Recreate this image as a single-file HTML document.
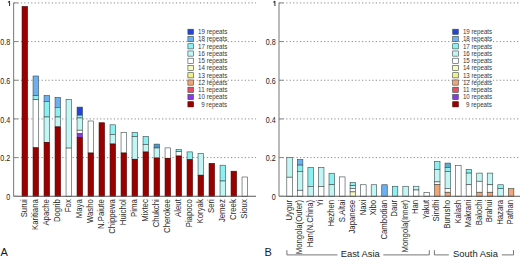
<!DOCTYPE html>
<html><head><meta charset="utf-8"><style>
html,body{margin:0;padding:0;background:#fff;}
svg{display:block;}
text{font-family:"Liberation Sans", sans-serif;}
</style></head><body>
<svg width="520" height="257" viewBox="0 0 520 257" fill="#1a1a1a">
<line x1="13.98" y1="157.59" x2="256.0" y2="157.59" stroke="#8a8a8a" stroke-width="1" stroke-dasharray="1.2 2.245"/>
<line x1="13.98" y1="118.92" x2="256.0" y2="118.92" stroke="#8a8a8a" stroke-width="1" stroke-dasharray="1.2 2.245"/>
<line x1="13.98" y1="80.25" x2="256.0" y2="80.25" stroke="#8a8a8a" stroke-width="1" stroke-dasharray="1.2 2.245"/>
<line x1="13.98" y1="41.58" x2="256.0" y2="41.58" stroke="#8a8a8a" stroke-width="1" stroke-dasharray="1.2 2.245"/>
<line x1="13.98" y1="2.91" x2="256.0" y2="2.91" stroke="#8a8a8a" stroke-width="1" stroke-dasharray="1.2 2.245"/>
<rect x="22.05" y="6.50" width="5.5" height="189.76" fill="#9a0000" stroke="#4a0000" stroke-width="0.6"/>
<text transform="translate(27.00,199.20) rotate(-90) scale(0.885,1)" text-anchor="end" font-size="8.8" fill="#2a2a2a">Surui</text>
<rect x="33.05" y="76.00" width="5.5" height="19.60" fill="#6cb0f0" stroke="#3a4848" stroke-width="0.6"/>
<rect x="33.05" y="95.60" width="5.5" height="4.00" fill="#8cf0f0" stroke="#3a4848" stroke-width="0.6"/>
<rect x="33.05" y="99.60" width="5.5" height="48.20" fill="#ffffff" stroke="#3a4848" stroke-width="0.6"/>
<rect x="33.05" y="147.80" width="5.5" height="48.46" fill="#9a0000" stroke="#4a0000" stroke-width="0.6"/>
<text transform="translate(38.00,199.20) rotate(-90) scale(0.885,1)" text-anchor="end" font-size="8.8" fill="#2a2a2a">Karitiana</text>
<rect x="44.05" y="95.50" width="5.5" height="6.00" fill="#6cb0f0" stroke="#3a4848" stroke-width="0.6"/>
<rect x="44.05" y="101.50" width="5.5" height="15.50" fill="#8cf0f0" stroke="#3a4848" stroke-width="0.6"/>
<rect x="44.05" y="117.00" width="5.5" height="25.40" fill="#c2f6f4" stroke="#3a4848" stroke-width="0.6"/>
<rect x="44.05" y="142.40" width="5.5" height="53.86" fill="#9a0000" stroke="#4a0000" stroke-width="0.6"/>
<text transform="translate(49.00,199.20) rotate(-90) scale(0.885,1)" text-anchor="end" font-size="8.8" fill="#2a2a2a">Apache</text>
<rect x="55.05" y="97.40" width="5.5" height="9.90" fill="#6cb0f0" stroke="#3a4848" stroke-width="0.6"/>
<rect x="55.05" y="107.30" width="5.5" height="9.70" fill="#8cf0f0" stroke="#3a4848" stroke-width="0.6"/>
<rect x="55.05" y="117.00" width="5.5" height="9.90" fill="#c2f6f4" stroke="#3a4848" stroke-width="0.6"/>
<rect x="55.05" y="126.90" width="5.5" height="69.36" fill="#9a0000" stroke="#4a0000" stroke-width="0.6"/>
<text transform="translate(60.00,199.20) rotate(-90) scale(0.885,1)" text-anchor="end" font-size="8.8" fill="#2a2a2a">Dogrib</text>
<rect x="66.05" y="99.40" width="5.5" height="48.70" fill="#c2f6f4" stroke="#3a4848" stroke-width="0.6"/>
<rect x="66.05" y="148.10" width="5.5" height="48.16" fill="#ffffff" stroke="#3a4848" stroke-width="0.6"/>
<text transform="translate(71.00,199.20) rotate(-90) scale(0.885,1)" text-anchor="end" font-size="8.8" fill="#2a2a2a">Fox</text>
<rect x="77.05" y="107.10" width="5.5" height="8.10" fill="#2244dd" stroke="#3a4848" stroke-width="0.6"/>
<rect x="77.05" y="115.20" width="5.5" height="2.80" fill="#8cf0f0" stroke="#3a4848" stroke-width="0.6"/>
<rect x="77.05" y="118.00" width="5.5" height="12.20" fill="#c2f6f4" stroke="#3a4848" stroke-width="0.6"/>
<rect x="77.05" y="130.20" width="5.5" height="3.40" fill="#ffffff" stroke="#3a4848" stroke-width="0.6"/>
<rect x="77.05" y="133.60" width="5.5" height="4.10" fill="#8a38e6" stroke="#3a4848" stroke-width="0.6"/>
<rect x="77.05" y="137.70" width="5.5" height="58.56" fill="#9a0000" stroke="#4a0000" stroke-width="0.6"/>
<text transform="translate(82.00,199.20) rotate(-90) scale(0.885,1)" text-anchor="end" font-size="8.8" fill="#2a2a2a">Maya</text>
<rect x="88.05" y="121.00" width="5.5" height="32.00" fill="#ffffff" stroke="#3a4848" stroke-width="0.6"/>
<rect x="88.05" y="153.00" width="5.5" height="43.26" fill="#9a0000" stroke="#4a0000" stroke-width="0.6"/>
<text transform="translate(93.00,199.20) rotate(-90) scale(0.885,1)" text-anchor="end" font-size="8.8" fill="#2a2a2a">Washo</text>
<rect x="99.05" y="122.75" width="5.5" height="73.51" fill="#9a0000" stroke="#4a0000" stroke-width="0.6"/>
<text transform="translate(104.00,199.20) rotate(-90) scale(0.885,1)" text-anchor="end" font-size="8.8" fill="#2a2a2a">N.Paiute</text>
<rect x="110.05" y="124.80" width="5.5" height="9.60" fill="#8cf0f0" stroke="#3a4848" stroke-width="0.6"/>
<rect x="110.05" y="134.40" width="5.5" height="9.60" fill="#c2f6f4" stroke="#3a4848" stroke-width="0.6"/>
<rect x="110.05" y="144.00" width="5.5" height="52.26" fill="#9a0000" stroke="#4a0000" stroke-width="0.6"/>
<text transform="translate(115.00,199.20) rotate(-90) scale(0.885,1)" text-anchor="end" font-size="8.8" fill="#2a2a2a">Chippewa</text>
<rect x="121.05" y="132.50" width="5.5" height="20.50" fill="#ffffff" stroke="#3a4848" stroke-width="0.6"/>
<rect x="121.05" y="153.00" width="5.5" height="43.26" fill="#9a0000" stroke="#4a0000" stroke-width="0.6"/>
<text transform="translate(126.00,199.20) rotate(-90) scale(0.885,1)" text-anchor="end" font-size="8.8" fill="#2a2a2a">Huichol</text>
<rect x="132.05" y="132.50" width="5.5" height="4.00" fill="#8cf0f0" stroke="#3a4848" stroke-width="0.6"/>
<rect x="132.05" y="136.50" width="5.5" height="22.75" fill="#c2f6f4" stroke="#3a4848" stroke-width="0.6"/>
<rect x="132.05" y="159.25" width="5.5" height="37.01" fill="#9a0000" stroke="#4a0000" stroke-width="0.6"/>
<text transform="translate(137.00,199.20) rotate(-90) scale(0.885,1)" text-anchor="end" font-size="8.8" fill="#2a2a2a">Pima</text>
<rect x="143.05" y="136.40" width="5.5" height="8.10" fill="#8cf0f0" stroke="#3a4848" stroke-width="0.6"/>
<rect x="143.05" y="144.50" width="5.5" height="7.50" fill="#c2f6f4" stroke="#3a4848" stroke-width="0.6"/>
<rect x="143.05" y="152.00" width="5.5" height="44.26" fill="#9a0000" stroke="#4a0000" stroke-width="0.6"/>
<text transform="translate(148.00,199.20) rotate(-90) scale(0.885,1)" text-anchor="end" font-size="8.8" fill="#2a2a2a">Mixtec</text>
<rect x="154.05" y="144.10" width="5.5" height="3.90" fill="#5098cc" stroke="#3a4848" stroke-width="0.6"/>
<rect x="154.05" y="148.00" width="5.5" height="10.00" fill="#c2f6f4" stroke="#3a4848" stroke-width="0.6"/>
<rect x="154.05" y="158.00" width="5.5" height="38.26" fill="#9a0000" stroke="#4a0000" stroke-width="0.6"/>
<text transform="translate(159.00,199.20) rotate(-90) scale(0.885,1)" text-anchor="end" font-size="8.8" fill="#2a2a2a">Chukchi</text>
<rect x="165.05" y="147.90" width="5.5" height="10.35" fill="#ffffff" stroke="#3a4848" stroke-width="0.6"/>
<rect x="165.05" y="158.25" width="5.5" height="38.01" fill="#9a0000" stroke="#4a0000" stroke-width="0.6"/>
<text transform="translate(170.00,199.20) rotate(-90) scale(0.885,1)" text-anchor="end" font-size="8.8" fill="#2a2a2a">Cherokee</text>
<rect x="176.05" y="149.50" width="5.5" height="2.10" fill="#8cf0f0" stroke="#3a4848" stroke-width="0.6"/>
<rect x="176.05" y="151.60" width="5.5" height="4.40" fill="#ffffff" stroke="#3a4848" stroke-width="0.6"/>
<rect x="176.05" y="156.00" width="5.5" height="40.26" fill="#9a0000" stroke="#4a0000" stroke-width="0.6"/>
<text transform="translate(181.00,199.20) rotate(-90) scale(0.885,1)" text-anchor="end" font-size="8.8" fill="#2a2a2a">Aleut</text>
<rect x="187.05" y="151.90" width="5.5" height="7.85" fill="#8cf0f0" stroke="#3a4848" stroke-width="0.6"/>
<rect x="187.05" y="159.75" width="5.5" height="36.51" fill="#9a0000" stroke="#4a0000" stroke-width="0.6"/>
<text transform="translate(192.00,199.20) rotate(-90) scale(0.885,1)" text-anchor="end" font-size="8.8" fill="#2a2a2a">Piapoco</text>
<rect x="198.05" y="153.60" width="5.5" height="21.60" fill="#c2f6f4" stroke="#3a4848" stroke-width="0.6"/>
<rect x="198.05" y="175.20" width="5.5" height="21.06" fill="#9a0000" stroke="#4a0000" stroke-width="0.6"/>
<text transform="translate(203.00,199.20) rotate(-90) scale(0.885,1)" text-anchor="end" font-size="8.8" fill="#2a2a2a">Koryak</text>
<rect x="209.05" y="163.40" width="5.5" height="32.86" fill="#9a0000" stroke="#4a0000" stroke-width="0.6"/>
<text transform="translate(214.00,199.20) rotate(-90) scale(0.885,1)" text-anchor="end" font-size="8.8" fill="#2a2a2a">Seri</text>
<rect x="220.05" y="165.20" width="5.5" height="15.80" fill="#8cf0f0" stroke="#3a4848" stroke-width="0.6"/>
<rect x="220.05" y="181.00" width="5.5" height="15.26" fill="#c2f6f4" stroke="#3a4848" stroke-width="0.6"/>
<text transform="translate(225.00,199.20) rotate(-90) scale(0.885,1)" text-anchor="end" font-size="8.8" fill="#2a2a2a">Jemez</text>
<rect x="231.05" y="171.20" width="5.5" height="25.06" fill="#9a0000" stroke="#4a0000" stroke-width="0.6"/>
<text transform="translate(236.00,199.20) rotate(-90) scale(0.885,1)" text-anchor="end" font-size="8.8" fill="#2a2a2a">Creek</text>
<rect x="242.05" y="177.00" width="5.5" height="19.26" fill="#ffffff" stroke="#3a4848" stroke-width="0.6"/>
<text transform="translate(247.00,199.20) rotate(-90) scale(0.885,1)" text-anchor="end" font-size="8.8" fill="#2a2a2a">Sioux</text>
<line x1="13.65" y1="196.26" x2="256.0" y2="196.26" stroke="#555" stroke-width="1"/>
<line x1="13.65" y1="2.61" x2="13.65" y2="196.26" stroke="#777" stroke-width="1"/>
<line x1="13.65" y1="196.26" x2="18.15" y2="196.26" stroke="#888" stroke-width="1"/>
<text transform="translate(10.25,199.86) scale(0.87,1)" text-anchor="end" font-size="8.2">0</text>
<line x1="13.65" y1="157.59" x2="18.15" y2="157.59" stroke="#888" stroke-width="1"/>
<text transform="translate(10.25,161.19) scale(0.87,1)" text-anchor="end" font-size="8.2">0.2</text>
<line x1="13.65" y1="118.92" x2="18.15" y2="118.92" stroke="#888" stroke-width="1"/>
<text transform="translate(10.25,122.52) scale(0.87,1)" text-anchor="end" font-size="8.2">0.4</text>
<line x1="13.65" y1="80.25" x2="18.15" y2="80.25" stroke="#888" stroke-width="1"/>
<text transform="translate(10.25,83.85) scale(0.87,1)" text-anchor="end" font-size="8.2">0.6</text>
<line x1="13.65" y1="41.58" x2="18.15" y2="41.58" stroke="#888" stroke-width="1"/>
<text transform="translate(10.25,45.18) scale(0.87,1)" text-anchor="end" font-size="8.2">0.8</text>
<line x1="13.65" y1="2.91" x2="18.15" y2="2.91" stroke="#888" stroke-width="1"/>
<path d="M9.55,1.01 V6.01 M9.55,1.21 L7.95,2.41" stroke="#333" stroke-width="1.05" fill="none"/>
<rect x="187.90" y="29.20" width="5.6" height="5.2" fill="#2244dd" stroke="#3a4848" stroke-width="0.6"/>
<text x="198.10" y="34.10" font-size="6.4" textLength="29.3" lengthAdjust="spacingAndGlyphs" fill="#383838">19 repeats</text>
<rect x="187.90" y="36.45" width="5.6" height="5.2" fill="#6cb0f0" stroke="#3a4848" stroke-width="0.6"/>
<text x="198.10" y="41.35" font-size="6.4" textLength="29.3" lengthAdjust="spacingAndGlyphs" fill="#383838">18 repeats</text>
<rect x="187.90" y="43.70" width="5.6" height="5.2" fill="#8cf0f0" stroke="#3a4848" stroke-width="0.6"/>
<text x="198.10" y="48.60" font-size="6.4" textLength="29.3" lengthAdjust="spacingAndGlyphs" fill="#383838">17 repeats</text>
<rect x="187.90" y="50.95" width="5.6" height="5.2" fill="#c2f6f4" stroke="#3a4848" stroke-width="0.6"/>
<text x="198.10" y="55.85" font-size="6.4" textLength="29.3" lengthAdjust="spacingAndGlyphs" fill="#383838">16 repeats</text>
<rect x="187.90" y="58.20" width="5.6" height="5.2" fill="#ffffff" stroke="#3a4848" stroke-width="0.6"/>
<text x="198.10" y="63.10" font-size="6.4" textLength="29.3" lengthAdjust="spacingAndGlyphs" fill="#383838">15 repeats</text>
<rect x="187.90" y="65.45" width="5.6" height="5.2" fill="#fafac0" stroke="#3a4848" stroke-width="0.6"/>
<text x="198.10" y="70.35" font-size="6.4" textLength="29.3" lengthAdjust="spacingAndGlyphs" fill="#383838">14 repeats</text>
<rect x="187.90" y="72.70" width="5.6" height="5.2" fill="#f2f086" stroke="#3a4848" stroke-width="0.6"/>
<text x="198.10" y="77.60" font-size="6.4" textLength="29.3" lengthAdjust="spacingAndGlyphs" fill="#383838">13 repeats</text>
<rect x="187.90" y="79.95" width="5.6" height="5.2" fill="#f4a474" stroke="#3a4848" stroke-width="0.6"/>
<text x="198.10" y="84.85" font-size="6.4" textLength="29.3" lengthAdjust="spacingAndGlyphs" fill="#383838">12 repeats</text>
<rect x="187.90" y="87.20" width="5.6" height="5.2" fill="#ea4a64" stroke="#3a4848" stroke-width="0.6"/>
<text x="198.10" y="92.10" font-size="6.4" textLength="29.3" lengthAdjust="spacingAndGlyphs" fill="#383838">11 repeats</text>
<rect x="187.90" y="94.45" width="5.6" height="5.2" fill="#8a38e6" stroke="#3a4848" stroke-width="0.6"/>
<text x="198.10" y="99.35" font-size="6.4" textLength="29.3" lengthAdjust="spacingAndGlyphs" fill="#383838">10 repeats</text>
<rect x="187.90" y="101.70" width="5.6" height="5.2" fill="#9a0000" stroke="#4a0000" stroke-width="0.6"/>
<text x="201.20" y="106.60" font-size="6.4" textLength="25.9" lengthAdjust="spacingAndGlyphs" fill="#383838">9 repeats</text>
<line x1="279.33" y1="157.59" x2="521" y2="157.59" stroke="#8a8a8a" stroke-width="1" stroke-dasharray="1.2 2.245"/>
<line x1="279.33" y1="118.92" x2="521" y2="118.92" stroke="#8a8a8a" stroke-width="1" stroke-dasharray="1.2 2.245"/>
<line x1="279.33" y1="80.25" x2="521" y2="80.25" stroke="#8a8a8a" stroke-width="1" stroke-dasharray="1.2 2.245"/>
<line x1="279.33" y1="41.58" x2="521" y2="41.58" stroke="#8a8a8a" stroke-width="1" stroke-dasharray="1.2 2.245"/>
<line x1="279.33" y1="2.91" x2="521" y2="2.91" stroke="#8a8a8a" stroke-width="1" stroke-dasharray="1.2 2.245"/>
<rect x="286.80" y="157.40" width="5.5" height="19.80" fill="#c2f6f4" stroke="#3a4848" stroke-width="0.6"/>
<rect x="286.80" y="177.20" width="5.5" height="19.06" fill="#ffffff" stroke="#3a4848" stroke-width="0.6"/>
<text transform="translate(291.75,199.80) rotate(-90) scale(0.885,1)" text-anchor="end" font-size="8.8" fill="#2a2a2a">Uygur</text>
<rect x="297.35" y="159.50" width="5.5" height="5.60" fill="#6cb0f0" stroke="#3a4848" stroke-width="0.6"/>
<rect x="297.35" y="165.10" width="5.5" height="6.20" fill="#8cf0f0" stroke="#3a4848" stroke-width="0.6"/>
<rect x="297.35" y="171.30" width="5.5" height="18.95" fill="#c2f6f4" stroke="#3a4848" stroke-width="0.6"/>
<rect x="297.35" y="190.25" width="5.5" height="6.01" fill="#ffffff" stroke="#3a4848" stroke-width="0.6"/>
<text transform="translate(302.30,199.80) rotate(-90) scale(0.885,1)" text-anchor="end" font-size="8.8" fill="#2a2a2a">Mongola(Outer)</text>
<rect x="307.90" y="167.40" width="5.5" height="19.00" fill="#8cf0f0" stroke="#3a4848" stroke-width="0.6"/>
<rect x="307.90" y="186.40" width="5.5" height="9.86" fill="#c2f6f4" stroke="#3a4848" stroke-width="0.6"/>
<text transform="translate(312.85,199.80) rotate(-90) scale(0.885,1)" text-anchor="end" font-size="8.8" fill="#2a2a2a">Han(N.China)</text>
<rect x="318.45" y="167.40" width="5.5" height="19.00" fill="#c2f6f4" stroke="#3a4848" stroke-width="0.6"/>
<rect x="318.45" y="186.40" width="5.5" height="9.86" fill="#ffffff" stroke="#3a4848" stroke-width="0.6"/>
<text transform="translate(323.40,199.80) rotate(-90) scale(0.885,1)" text-anchor="end" font-size="8.8" fill="#2a2a2a">Yi</text>
<rect x="329.00" y="173.25" width="5.5" height="11.50" fill="#8cf0f0" stroke="#3a4848" stroke-width="0.6"/>
<rect x="329.00" y="184.75" width="5.5" height="11.51" fill="#c2f6f4" stroke="#3a4848" stroke-width="0.6"/>
<text transform="translate(333.95,199.80) rotate(-90) scale(0.885,1)" text-anchor="end" font-size="8.8" fill="#2a2a2a">Hezhen</text>
<rect x="339.55" y="176.90" width="5.5" height="19.36" fill="#ffffff" stroke="#3a4848" stroke-width="0.6"/>
<text transform="translate(344.50,199.80) rotate(-90) scale(0.885,1)" text-anchor="end" font-size="8.8" fill="#2a2a2a">S.Altai</text>
<rect x="350.10" y="182.50" width="5.5" height="3.10" fill="#8cf0f0" stroke="#3a4848" stroke-width="0.6"/>
<rect x="350.10" y="185.60" width="5.5" height="2.90" fill="#c2f6f4" stroke="#3a4848" stroke-width="0.6"/>
<rect x="350.10" y="188.50" width="5.5" height="3.40" fill="#ffffff" stroke="#3a4848" stroke-width="0.6"/>
<rect x="350.10" y="191.90" width="5.5" height="4.36" fill="#fafac0" stroke="#3a4848" stroke-width="0.6"/>
<text transform="translate(355.05,199.80) rotate(-90) scale(0.885,1)" text-anchor="end" font-size="8.8" fill="#2a2a2a">Japanese</text>
<rect x="360.65" y="184.75" width="5.5" height="11.51" fill="#ffffff" stroke="#3a4848" stroke-width="0.6"/>
<text transform="translate(365.60,199.80) rotate(-90) scale(0.885,1)" text-anchor="end" font-size="8.8" fill="#2a2a2a">Naxi</text>
<rect x="371.20" y="184.75" width="5.5" height="11.51" fill="#c2f6f4" stroke="#3a4848" stroke-width="0.6"/>
<text transform="translate(376.15,199.80) rotate(-90) scale(0.885,1)" text-anchor="end" font-size="8.8" fill="#2a2a2a">Xibo</text>
<rect x="381.75" y="184.75" width="5.5" height="11.51" fill="#6cb0f0" stroke="#3a4848" stroke-width="0.6"/>
<text transform="translate(386.70,199.80) rotate(-90) scale(0.885,1)" text-anchor="end" font-size="8.8" fill="#2a2a2a">Cambodian</text>
<rect x="392.30" y="186.25" width="5.5" height="10.01" fill="#8cf0f0" stroke="#3a4848" stroke-width="0.6"/>
<text transform="translate(397.25,199.80) rotate(-90) scale(0.885,1)" text-anchor="end" font-size="8.8" fill="#2a2a2a">Daur</text>
<rect x="402.85" y="186.25" width="5.5" height="10.01" fill="#c2f6f4" stroke="#3a4848" stroke-width="0.6"/>
<text transform="translate(407.80,199.80) rotate(-90) scale(0.885,1)" text-anchor="end" font-size="8.8" fill="#2a2a2a">Mongola(Inner)</text>
<rect x="413.40" y="186.25" width="5.5" height="3.75" fill="#c2f6f4" stroke="#3a4848" stroke-width="0.6"/>
<rect x="413.40" y="190.00" width="5.5" height="6.26" fill="#ffffff" stroke="#3a4848" stroke-width="0.6"/>
<text transform="translate(418.35,199.80) rotate(-90) scale(0.885,1)" text-anchor="end" font-size="8.8" fill="#2a2a2a">Han</text>
<rect x="423.95" y="192.50" width="5.5" height="3.76" fill="#ffffff" stroke="#3a4848" stroke-width="0.6"/>
<text transform="translate(428.90,199.80) rotate(-90) scale(0.885,1)" text-anchor="end" font-size="8.8" fill="#2a2a2a">Yakut</text>
<rect x="434.50" y="161.50" width="5.5" height="7.90" fill="#8cf0f0" stroke="#3a4848" stroke-width="0.6"/>
<rect x="434.50" y="169.40" width="5.5" height="12.50" fill="#c2f6f4" stroke="#3a4848" stroke-width="0.6"/>
<rect x="434.50" y="181.90" width="5.5" height="2.50" fill="#ffffff" stroke="#3a4848" stroke-width="0.6"/>
<rect x="434.50" y="184.40" width="5.5" height="11.86" fill="#f4a474" stroke="#3a4848" stroke-width="0.6"/>
<text transform="translate(439.45,199.80) rotate(-90) scale(0.885,1)" text-anchor="end" font-size="8.8" fill="#2a2a2a">Sindhi</text>
<rect x="445.05" y="163.10" width="5.5" height="4.40" fill="#58b0d0" stroke="#3a4848" stroke-width="0.6"/>
<rect x="445.05" y="167.50" width="5.5" height="4.00" fill="#8cf0f0" stroke="#3a4848" stroke-width="0.6"/>
<rect x="445.05" y="171.50" width="5.5" height="17.00" fill="#c2f6f4" stroke="#3a4848" stroke-width="0.6"/>
<rect x="445.05" y="188.50" width="5.5" height="3.75" fill="#ffffff" stroke="#3a4848" stroke-width="0.6"/>
<rect x="445.05" y="192.25" width="5.5" height="4.01" fill="#f4a474" stroke="#3a4848" stroke-width="0.6"/>
<text transform="translate(450.00,199.80) rotate(-90) scale(0.885,1)" text-anchor="end" font-size="8.8" fill="#2a2a2a">Burusho</text>
<rect x="455.60" y="165.40" width="5.5" height="30.86" fill="#ffffff" stroke="#3a4848" stroke-width="0.6"/>
<text transform="translate(460.55,199.80) rotate(-90) scale(0.885,1)" text-anchor="end" font-size="8.8" fill="#2a2a2a">Kalash</text>
<rect x="466.15" y="169.40" width="5.5" height="3.70" fill="#8cf0f0" stroke="#3a4848" stroke-width="0.6"/>
<rect x="466.15" y="173.10" width="5.5" height="11.65" fill="#c2f6f4" stroke="#3a4848" stroke-width="0.6"/>
<rect x="466.15" y="184.75" width="5.5" height="11.51" fill="#ffffff" stroke="#3a4848" stroke-width="0.6"/>
<text transform="translate(471.10,199.80) rotate(-90) scale(0.885,1)" text-anchor="end" font-size="8.8" fill="#2a2a2a">Makrani</text>
<rect x="476.70" y="173.10" width="5.5" height="8.15" fill="#c2f6f4" stroke="#3a4848" stroke-width="0.6"/>
<rect x="476.70" y="181.25" width="5.5" height="11.00" fill="#ffffff" stroke="#3a4848" stroke-width="0.6"/>
<rect x="476.70" y="192.25" width="5.5" height="4.01" fill="#f4a474" stroke="#3a4848" stroke-width="0.6"/>
<text transform="translate(481.65,199.80) rotate(-90) scale(0.885,1)" text-anchor="end" font-size="8.8" fill="#2a2a2a">Balochi</text>
<rect x="487.25" y="173.10" width="5.5" height="11.65" fill="#c2f6f4" stroke="#3a4848" stroke-width="0.6"/>
<rect x="487.25" y="184.75" width="5.5" height="7.50" fill="#ffffff" stroke="#3a4848" stroke-width="0.6"/>
<rect x="487.25" y="192.25" width="5.5" height="4.01" fill="#f4a474" stroke="#3a4848" stroke-width="0.6"/>
<text transform="translate(492.20,199.80) rotate(-90) scale(0.885,1)" text-anchor="end" font-size="8.8" fill="#2a2a2a">Brahui</text>
<rect x="497.80" y="184.75" width="5.5" height="3.75" fill="#8cf0f0" stroke="#3a4848" stroke-width="0.6"/>
<rect x="497.80" y="188.50" width="5.5" height="7.76" fill="#c2f6f4" stroke="#3a4848" stroke-width="0.6"/>
<text transform="translate(502.75,199.80) rotate(-90) scale(0.885,1)" text-anchor="end" font-size="8.8" fill="#2a2a2a">Hazara</text>
<rect x="508.35" y="188.50" width="5.5" height="7.76" fill="#f4a474" stroke="#3a4848" stroke-width="0.6"/>
<text transform="translate(513.30,199.80) rotate(-90) scale(0.885,1)" text-anchor="end" font-size="8.8" fill="#2a2a2a">Pathan</text>
<line x1="279.0" y1="196.26" x2="521" y2="196.26" stroke="#555" stroke-width="1"/>
<line x1="279.0" y1="2.61" x2="279.0" y2="196.26" stroke="#777" stroke-width="1"/>
<line x1="279.0" y1="196.26" x2="283.5" y2="196.26" stroke="#888" stroke-width="1"/>
<text transform="translate(275.60,199.86) scale(0.87,1)" text-anchor="end" font-size="8.2">0</text>
<line x1="279.0" y1="157.59" x2="283.5" y2="157.59" stroke="#888" stroke-width="1"/>
<text transform="translate(275.60,161.19) scale(0.87,1)" text-anchor="end" font-size="8.2">0.2</text>
<line x1="279.0" y1="118.92" x2="283.5" y2="118.92" stroke="#888" stroke-width="1"/>
<text transform="translate(275.60,122.52) scale(0.87,1)" text-anchor="end" font-size="8.2">0.4</text>
<line x1="279.0" y1="80.25" x2="283.5" y2="80.25" stroke="#888" stroke-width="1"/>
<text transform="translate(275.60,83.85) scale(0.87,1)" text-anchor="end" font-size="8.2">0.6</text>
<line x1="279.0" y1="41.58" x2="283.5" y2="41.58" stroke="#888" stroke-width="1"/>
<text transform="translate(275.60,45.18) scale(0.87,1)" text-anchor="end" font-size="8.2">0.8</text>
<line x1="279.0" y1="2.91" x2="283.5" y2="2.91" stroke="#888" stroke-width="1"/>
<path d="M274.90,1.01 V6.01 M274.90,1.21 L273.30,2.41" stroke="#333" stroke-width="1.05" fill="none"/>
<rect x="452.70" y="29.20" width="5.6" height="5.2" fill="#2244dd" stroke="#3a4848" stroke-width="0.6"/>
<text x="462.90" y="34.10" font-size="6.4" textLength="29.3" lengthAdjust="spacingAndGlyphs" fill="#383838">19 repeats</text>
<rect x="452.70" y="36.45" width="5.6" height="5.2" fill="#6cb0f0" stroke="#3a4848" stroke-width="0.6"/>
<text x="462.90" y="41.35" font-size="6.4" textLength="29.3" lengthAdjust="spacingAndGlyphs" fill="#383838">18 repeats</text>
<rect x="452.70" y="43.70" width="5.6" height="5.2" fill="#8cf0f0" stroke="#3a4848" stroke-width="0.6"/>
<text x="462.90" y="48.60" font-size="6.4" textLength="29.3" lengthAdjust="spacingAndGlyphs" fill="#383838">17 repeats</text>
<rect x="452.70" y="50.95" width="5.6" height="5.2" fill="#c2f6f4" stroke="#3a4848" stroke-width="0.6"/>
<text x="462.90" y="55.85" font-size="6.4" textLength="29.3" lengthAdjust="spacingAndGlyphs" fill="#383838">16 repeats</text>
<rect x="452.70" y="58.20" width="5.6" height="5.2" fill="#ffffff" stroke="#3a4848" stroke-width="0.6"/>
<text x="462.90" y="63.10" font-size="6.4" textLength="29.3" lengthAdjust="spacingAndGlyphs" fill="#383838">15 repeats</text>
<rect x="452.70" y="65.45" width="5.6" height="5.2" fill="#fafac0" stroke="#3a4848" stroke-width="0.6"/>
<text x="462.90" y="70.35" font-size="6.4" textLength="29.3" lengthAdjust="spacingAndGlyphs" fill="#383838">14 repeats</text>
<rect x="452.70" y="72.70" width="5.6" height="5.2" fill="#f2f086" stroke="#3a4848" stroke-width="0.6"/>
<text x="462.90" y="77.60" font-size="6.4" textLength="29.3" lengthAdjust="spacingAndGlyphs" fill="#383838">13 repeats</text>
<rect x="452.70" y="79.95" width="5.6" height="5.2" fill="#f4a474" stroke="#3a4848" stroke-width="0.6"/>
<text x="462.90" y="84.85" font-size="6.4" textLength="29.3" lengthAdjust="spacingAndGlyphs" fill="#383838">12 repeats</text>
<rect x="452.70" y="87.20" width="5.6" height="5.2" fill="#ea4a64" stroke="#3a4848" stroke-width="0.6"/>
<text x="462.90" y="92.10" font-size="6.4" textLength="29.3" lengthAdjust="spacingAndGlyphs" fill="#383838">11 repeats</text>
<rect x="452.70" y="94.45" width="5.6" height="5.2" fill="#8a38e6" stroke="#3a4848" stroke-width="0.6"/>
<text x="462.90" y="99.35" font-size="6.4" textLength="29.3" lengthAdjust="spacingAndGlyphs" fill="#383838">10 repeats</text>
<rect x="452.70" y="101.70" width="5.6" height="5.2" fill="#9a0000" stroke="#4a0000" stroke-width="0.6"/>
<text x="466.00" y="106.60" font-size="6.4" textLength="25.9" lengthAdjust="spacingAndGlyphs" fill="#383838">9 repeats</text>
<text x="0.4" y="256.3" font-size="11">A</text>
<text x="264.5" y="256.3" font-size="11">B</text>
<polyline points="286.9,250.2 286.9,254.9 337.4,254.9" fill="none" stroke="#666" stroke-width="0.9"/>
<polyline points="383.3,254.9 429.3,254.9 429.3,250.2" fill="none" stroke="#666" stroke-width="0.9"/>
<text x="340.7" y="256.7" font-size="9.4">East Asia</text>
<polyline points="434.4,250.2 434.4,254.9 448.8,254.9" fill="none" stroke="#666" stroke-width="0.9"/>
<polyline points="501.8,254.9 513.5,254.9 513.5,250.2" fill="none" stroke="#666" stroke-width="0.9"/>
<text x="453.1" y="256.7" font-size="9.4">South Asia</text>
</svg>
</body></html>
